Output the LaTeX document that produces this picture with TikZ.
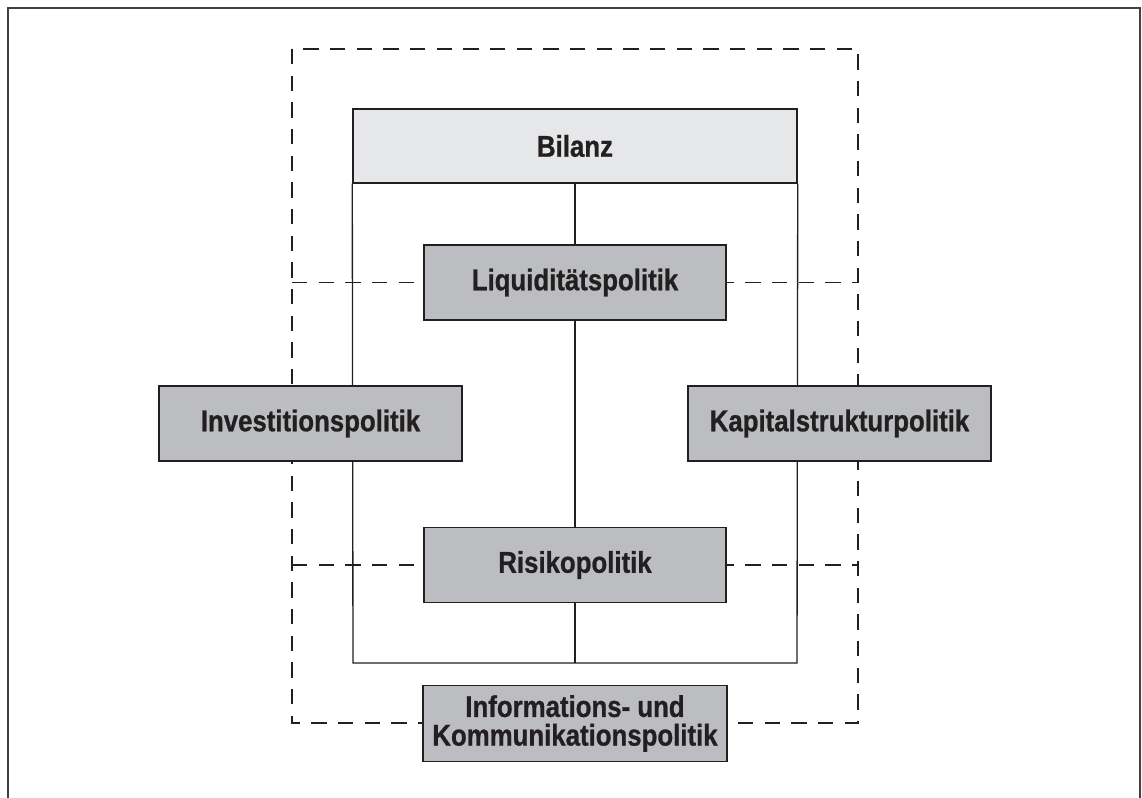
\documentclass[tikz,border=0pt]{standalone}
\usepackage{fontspec}
\setmainfont{Liberation Sans}[FakeStretch=0.86,BoldFeatures={FakeBold=0.8}]
\usetikzlibrary{backgrounds}
\definecolor{boxgray}{HTML}{BCBDC0}
\definecolor{lightgray}{HTML}{E6E7E8}
\definecolor{ink}{HTML}{231F20}
\tikzset{
  pbox/.style={draw=ink, line width=1.1pt, fill=boxgray, rectangle, inner sep=0pt,
    font=\fontsize{22.5}{22.5}\selectfont\bfseries, text=ink, align=center},
  dashline/.style={draw=ink, line width=1pt, dash pattern=on 11.5pt off 8.5pt},
  solidline/.style={draw=ink, line width=1pt},
  framebox/.style={draw=black!75, line width=1.6pt}
}
\begin{document}
\begin{tikzpicture}[x=0.75pt,y=-0.75pt]
\useasboundingbox (0,0) rectangle (1142,798);
% outer frame (open at bottom)
\draw[framebox] (8,798) -- (8,8) -- (1140,8) -- (1140,798);

% nodes
\node[pbox, fill=lightgray, minimum width=333pt, minimum height=55.5pt] (bil) at (575,146) {Bilanz};
\node[pbox, minimum width=226.5pt, minimum height=56.25pt] (liq) at (575,282.5) {Liquiditätspolitik};
\node[pbox, minimum width=226.5pt, minimum height=56.25pt] (ris) at (575,565) {Risikopolitik};
\node[pbox, minimum width=227.25pt, minimum height=56.25pt] (inv) at (310.5,423.5) {Investitionspolitik};
\node[pbox, minimum width=227.25pt, minimum height=56.25pt] (kap) at (839.5,423.5) {Kapitalstrukturpolitik};
\node[pbox, minimum width=228pt, minimum height=57pt] (inf) at (575,723.5) {Informations- und\\[-1pt]Kommunikationspolitik};

\coordinate (dTL) at (292,49);
\coordinate (dBR) at (858,723);
\coordinate (rBL) at (353,663);
\coordinate (rBR) at (797,663);
\coordinate (rBM) at (575,663);

\begin{pgfonlayer}{background}
  % dashed frame
  \draw[dashline] (dTL) rectangle (dBR);
  \draw[dashline] (dTL |- liq) -- (dBR |- liq);
  \draw[dashline] (dTL |- ris) -- (dBR |- ris);
  % balance sheet rectangle
  \draw[solidline] (bil.south west) -- (rBL) -- (rBR) -- (bil.south east);
  \draw[solidline] (bil.south) -- (rBM);
\end{pgfonlayer}
\end{tikzpicture}
\end{document}
